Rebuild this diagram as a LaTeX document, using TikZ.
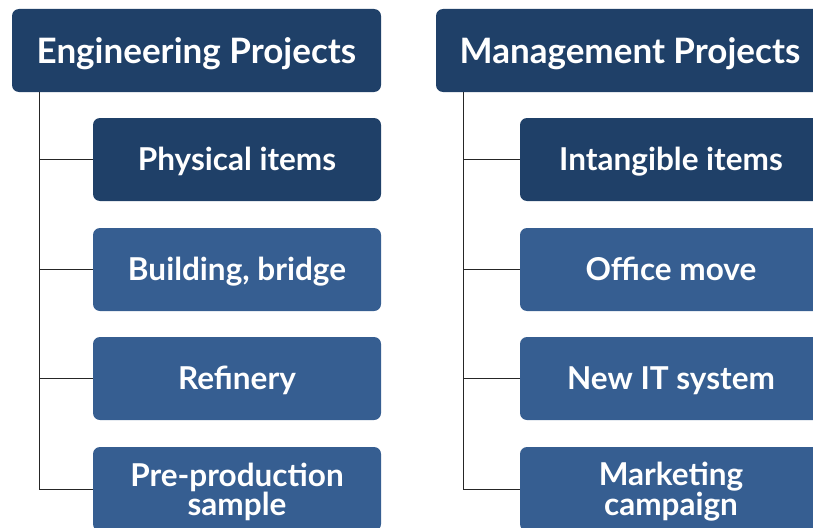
\documentclass[tikz,border=0pt]{standalone}
\usepackage{fontspec}
\setmainfont{Lato}
\definecolor{hdr}{RGB}{31,64,104}
\definecolor{sub}{RGB}{54,94,145}
\begin{document}
\begin{tikzpicture}[x=1pt,y=-1pt,
  box/.style={draw=none,rounded corners=7pt,text=white,font=\bfseries,align=center,inner sep=0pt},
  hbox/.style={box,fill=hdr,text height=25.2pt,text depth=0pt,font=\bfseries\fontsize{35}{36}\selectfont},
  dbox/.style={box,fill=hdr,text height=22.7pt,text depth=0pt,font=\bfseries\fontsize{31.5}{28.5}\selectfont},
  lbox/.style={box,fill=sub,text height=22.7pt,text depth=0pt,font=\bfseries\fontsize{31.5}{28.5}\selectfont},
  tbox/.style={box,fill=sub,font=\bfseries\fontsize{31.5}{28}\selectfont},
  conn/.style={draw=black!85,line width=1pt}]
\useasboundingbox (0,0) rectangle (813,527);
\clip (0,0) rectangle (813,527);
% left column
\node[hbox,minimum width=369pt,minimum height=83pt] (eh) at (196.5,50.5) {Engineering Projects};
\node[dbox,minimum width=288pt,minimum height=83pt] (e1) at (237,159.5) {Physical items};
\node[lbox,minimum width=288pt,minimum height=83pt] (e2) at (237,269.5) {Building, bridge};
\node[lbox,minimum width=288pt,minimum height=83pt] (e3) at (237,378.5) {Refinery};
\node[tbox,minimum width=288pt,minimum height=84pt] (e4) at (237,489) {};
\node[box,font=\bfseries\fontsize{31.5}{28}\selectfont] (e4t) at (237,492) {Pre-production\\sample};
% right column
\node[hbox,minimum width=388pt,minimum height=83pt] (mh) at (630,50.5) {Management Projects};
\node[dbox,minimum width=302pt,minimum height=83pt] (m1) at (671,159.5) {Intangible items};
\node[lbox,minimum width=302pt,minimum height=83pt] (m2) at (671,269.5) {Office move};
\node[lbox,minimum width=302pt,minimum height=83pt] (m3) at (671,378.5) {New IT system};
\node[tbox,minimum width=302pt,minimum height=84pt] (m4) at (671,489) {};
\node[box,font=\bfseries\fontsize{31.5}{28}\selectfont] (m4t) at (671,492) {Marketing\\campaign};
% connectors
\coordinate (et) at (39,92);
\coordinate (mt) at (463,92);
\draw[conn] (et) |- (e4.west);
\foreach \n in {e1,e2,e3} \draw[conn] (et |- \n.west) -- (\n.west);
\draw[conn] (mt) |- (m4.west);
\foreach \n in {m1,m2,m3} \draw[conn] (mt |- \n.west) -- (\n.west);
\end{tikzpicture}
\end{document}
